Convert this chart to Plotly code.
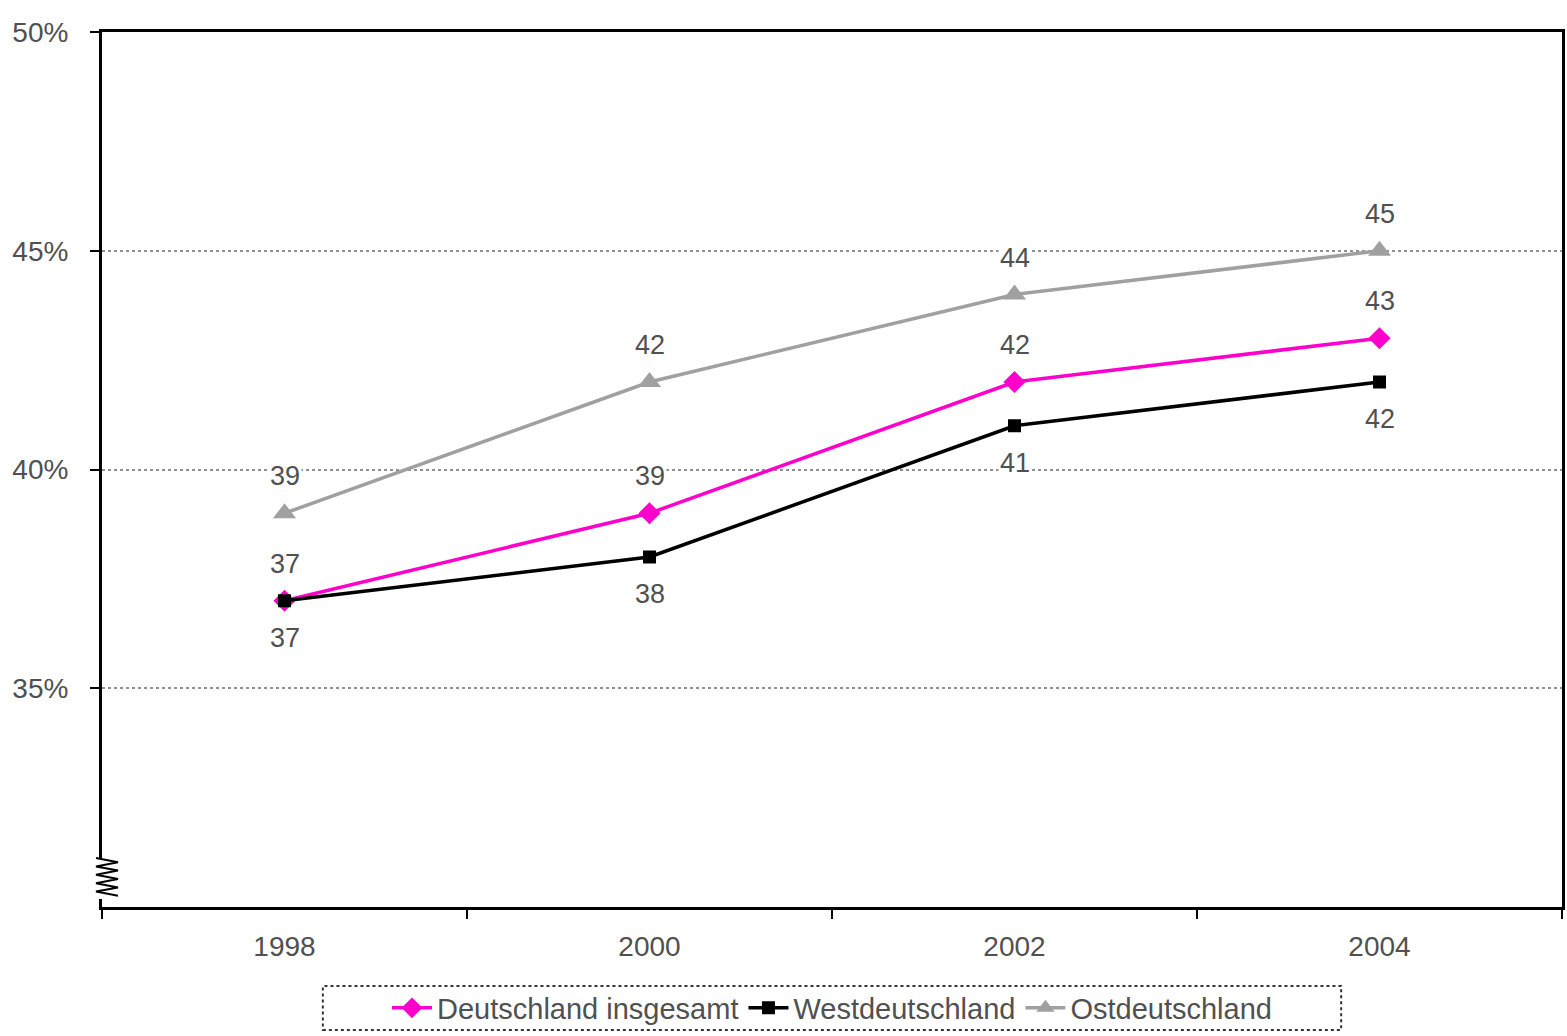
import plotly.graph_objects as go

years = ["1998", "2000", "2002", "2004"]
deutschland = [37, 39, 42, 43]
west = [37, 38, 41, 42]
ost = [39, 42, 44, 45]
y_ticks = [35, 40, 45, 50]
y_ticktext = ["35%", "40%", "45%", "50%"]

PINK = "#FF00CC"
BLACK = "#000000"
GRAY = "#A0A0A0"
TXT = "#505050"
FONT = "Liberation Sans, Arial, sans-serif"

fig = go.Figure()
series = [
    ("Deutschland insgesamt", deutschland, PINK, "diamond", 17, 37),
    ("Westdeutschland", west, BLACK, "square", 13, -37),
    ("Ostdeutschland", ost, GRAY, "triangle-up", 20, 37),
]
for name, vals, col, sym, sz, shift in series:
    fig.add_trace(go.Scatter(
        x=years, y=vals, name=name, mode="lines+markers",
        line=dict(color=col, width=3.5),
        marker=dict(symbol=sym, size=sz, color=col),
    ))
    for i, yv in enumerate(vals):
        fig.add_annotation(x=i, y=yv, text=str(yv), showarrow=False,
                           yshift=shift, bgcolor="white", borderpad=1,
                           font=dict(size=27, color=TXT, family=FONT))

# plot area in page coords: 101..1562, 32..907
pw, ph = 1461.0, 875.0
def px(x):
    return (x - 101) / pw
def py(y):
    return (907 - y) / ph

fig.add_shape(type="rect", xref="paper", yref="paper",
              x0=px(96), x1=px(107), y0=py(899), y1=py(858),
              fillcolor="white", line=dict(width=0), layer="above")
pts = []
yy = 858
left = True
while yy <= 900:
    pts.append((px(95 if left else 117), py(yy)))
    left = not left
    yy += 4.2
path = "M " + " L ".join(f"{a},{b}" for a, b in pts)
fig.add_shape(type="path", xref="paper", yref="paper", path=path,
              line=dict(color="black", width=2), layer="above")

# dotted legend frame
fig.add_shape(type="rect", xref="paper", yref="paper",
              x0=px(322), x1=px(1341), y0=py(1030), y1=py(986),
              line=dict(color="#333333", width=2, dash="dot"))

fig.update_layout(
    width=1567, height=1036,
    margin=dict(l=102, r=5, t=32, b=129, autoexpand=False),
    paper_bgcolor="white", plot_bgcolor="white",
    font=dict(family=FONT, size=26, color=TXT),
    showlegend=True,
    legend=dict(orientation="h", x=0.5, xanchor="center",
                y=py(1008), yanchor="middle",
                font=dict(size=29, color=TXT, family=FONT),
                itemwidth=40, tracegroupgap=0,
                bgcolor="rgba(0,0,0,0)"),
)
fig.update_xaxes(
    type="category", range=[-0.5, 3.5],
    showline=True, linecolor="black", linewidth=3, mirror=True,
    ticks="outside", ticklen=9, tickwidth=2, tickcolor="black",
    tickson="boundaries", showgrid=False,
    tickfont=dict(size=28, color=TXT, family=FONT),
    ticklabelstandoff=12,
)
fig.update_yaxes(
    range=[30, 50], tickvals=y_ticks, ticktext=y_ticktext,
    showline=True, linecolor="black", linewidth=3, mirror=True,
    ticks="outside", ticklen=9, tickwidth=2, tickcolor="black",
    showgrid=True, gridcolor="#909090", griddash="dot", gridwidth=1.5,
    zeroline=False,
    tickfont=dict(size=28, color=TXT, family=FONT),
    ticklabelstandoff=16,
)

fig.write_html(
    "out.html",
    config={"displayModeBar": False},
    post_script="document.body.style.margin='0';document.body.style.overflow='hidden';",
)
